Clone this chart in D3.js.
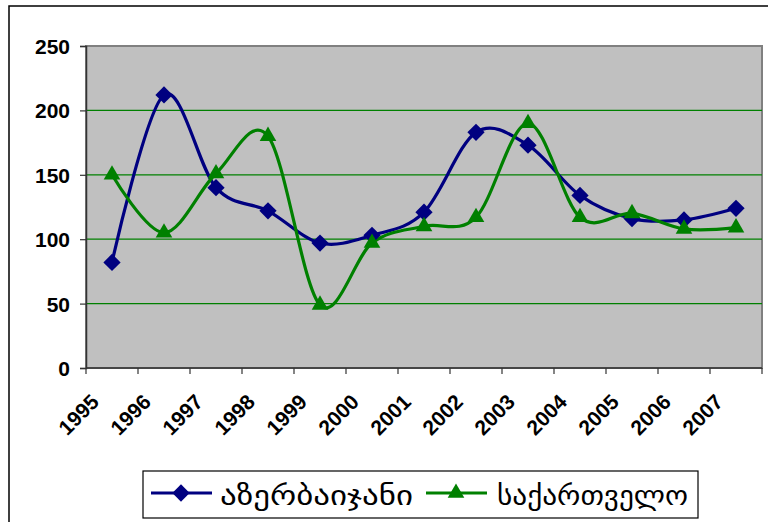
<!DOCTYPE html>
<html>
<head>
<meta charset="utf-8">
<script src="https://cdn.jsdelivr.net/npm/d3@7"></script>
<style>
  body { margin: 0; background: #fff; }
  svg { display: block; }
</style>
</head>
<body>
<svg id="chart" width="768" height="522"></svg>
<script>
// values
const years = ['1995', '1996', '1997', '1998', '1999', '2000', '2001',
               '2002', '2003', '2004', '2005', '2006', '2007'];
const azerbaijan = [82, 212, 140, 122, 97, 103, 121, 183, 173, 134, 116, 115, 124];
const georgia = [150, 105, 151, 180, 49, 97, 110, 117, 190, 117, 120, 108, 109];
const yTicks = [0, 50, 100, 150, 200, 250];
const seriesNames = ['აზერბაიჯანი', 'საქართველო'];

const svg = d3.select('#chart');
const margin = { top: 46, left: 86, right: 6, bottom: 154 };
const W = 768, H = 522;
const innerW = W - margin.left - margin.right;
const innerH = H - margin.top - margin.bottom;

// outer chart frame
svg.append('rect')
    .attr('x', 9).attr('y', 6)
    .attr('width', 800).attr('height', 600)
    .attr('fill', 'none')
    .attr('stroke', '#000')
    .attr('stroke-width', 1.5);

const g = svg.append('g').attr('transform', `translate(${margin.left},${margin.top})`);

const x = d3.scaleBand().domain(years).range([0, innerW]);
const y = d3.scaleLinear().domain([0, 250]).range([innerH, 0]);

// plot area
g.append('rect')
    .attr('width', innerW).attr('height', innerH)
    .attr('fill', '#c0c0c0')
    .attr('stroke', '#808080')
    .attr('stroke-width', 2);

// gridlines
g.selectAll('.grid')
    .data(yTicks.filter(d => d > 0 && d < 250))
    .enter()
    .append('line')
    .attr('x1', 0).attr('x2', innerW)
    .attr('y1', d => y(d)).attr('y2', d => y(d))
    .attr('stroke', '#008000')
    .attr('stroke-width', 1.2);

// y axis
const yAxis = g.append('g')
    .call(d3.axisLeft(y).tickValues(yTicks).tickSize(6).tickPadding(10));
yAxis.select('.domain').attr('stroke', '#333').attr('stroke-width', 1.5);
yAxis.selectAll('line').attr('stroke', '#333').attr('stroke-width', 1.2);
yAxis.selectAll('text')
    .attr('fill', '#000')
    .style('font-family', '"Liberation Sans", Arial, sans-serif')
    .style('font-weight', '700')
    .style('font-size', '21px')
    .attr('dy', '0.36em');

// x axis: ticks at category boundaries
const xg = g.append('g').attr('transform', `translate(0,${innerH})`);
xg.append('line')
    .attr('x1', 0).attr('x2', innerW)
    .attr('stroke', '#333').attr('stroke-width', 1.5);
xg.selectAll('.tick')
    .data(d3.range(years.length + 1))
    .enter()
    .append('line')
    .attr('x1', i => i * x.step()).attr('x2', i => i * x.step())
    .attr('y1', 0).attr('y2', 6)
    .attr('stroke', '#333').attr('stroke-width', 1.2);
xg.selectAll('.xlabel')
    .data(years)
    .enter()
    .append('text')
    .attr('transform', d => `translate(${x(d) + x.bandwidth() / 2 - 17},${30}) rotate(-45)`)
    .attr('text-anchor', 'end')
    .attr('dy', '0.36em')
    .style('font-family', '"Liberation Sans", Arial, sans-serif')
    .style('font-weight', '700')
    .style('font-size', '21px')
    .text(d => d);

// series
const line = d3.line()
    .x((d, i) => x(years[i]) + x.bandwidth() / 2)
    .y(d => y(d))
    .curve(d3.curveCardinal.tension(0));

g.append('path')
    .datum(azerbaijan)
    .attr('d', line)
    .attr('fill', 'none')
    .attr('stroke', '#000080')
    .attr('stroke-width', 3.2);

g.append('path')
    .datum(georgia)
    .attr('d', line)
    .attr('fill', 'none')
    .attr('stroke', '#008000')
    .attr('stroke-width', 3.2);

const diamond = d3.symbol().type(d3.symbolDiamond2).size(190);
const triangle = d3.symbol().type(d3.symbolTriangle).size(120);

g.selectAll('.azm')
    .data(azerbaijan)
    .enter()
    .append('path')
    .attr('d', diamond)
    .attr('transform', (d, i) => `translate(${x(years[i]) + x.bandwidth() / 2},${y(d)})`)
    .attr('fill', '#000080');

g.selectAll('.gem')
    .data(georgia)
    .enter()
    .append('path')
    .attr('d', triangle)
    .attr('transform', (d, i) => `translate(${x(years[i]) + x.bandwidth() / 2},${y(d)})`)
    .attr('fill', '#008000');

// legend
const lg = svg.append('g');
lg.append('rect')
    .attr('x', 143).attr('y', 471)
    .attr('width', 555).attr('height', 47)
    .attr('fill', '#fff')
    .attr('stroke', '#000')
    .attr('stroke-width', 1.2);

const legendItems = [
    { name: seriesNames[0], color: '#000080', sym: diamond, x0: 151, tx: 220, tw: 193 },
    { name: seriesNames[1], color: '#008000', sym: triangle, x0: 426, tx: 497, tw: 191 }
];
legendItems.forEach(it => {
    lg.append('line')
        .attr('x1', it.x0).attr('x2', it.x0 + 61)
        .attr('y1', 493).attr('y2', 493)
        .attr('stroke', it.color).attr('stroke-width', 3);
    lg.append('path')
        .attr('d', it.sym)
        .attr('transform', `translate(${it.x0 + 30},493)`)
        .attr('fill', it.color);
    lg.append('text')
        .attr('x', it.tx).attr('y', 505)
        .attr('textLength', it.tw)
        .attr('lengthAdjust', 'spacingAndGlyphs')
        .style('font-family', '"DejaVu Sans", sans-serif')
        .style('font-size', '28px')
        .text(it.name);
});
</script>
</body>
</html>
